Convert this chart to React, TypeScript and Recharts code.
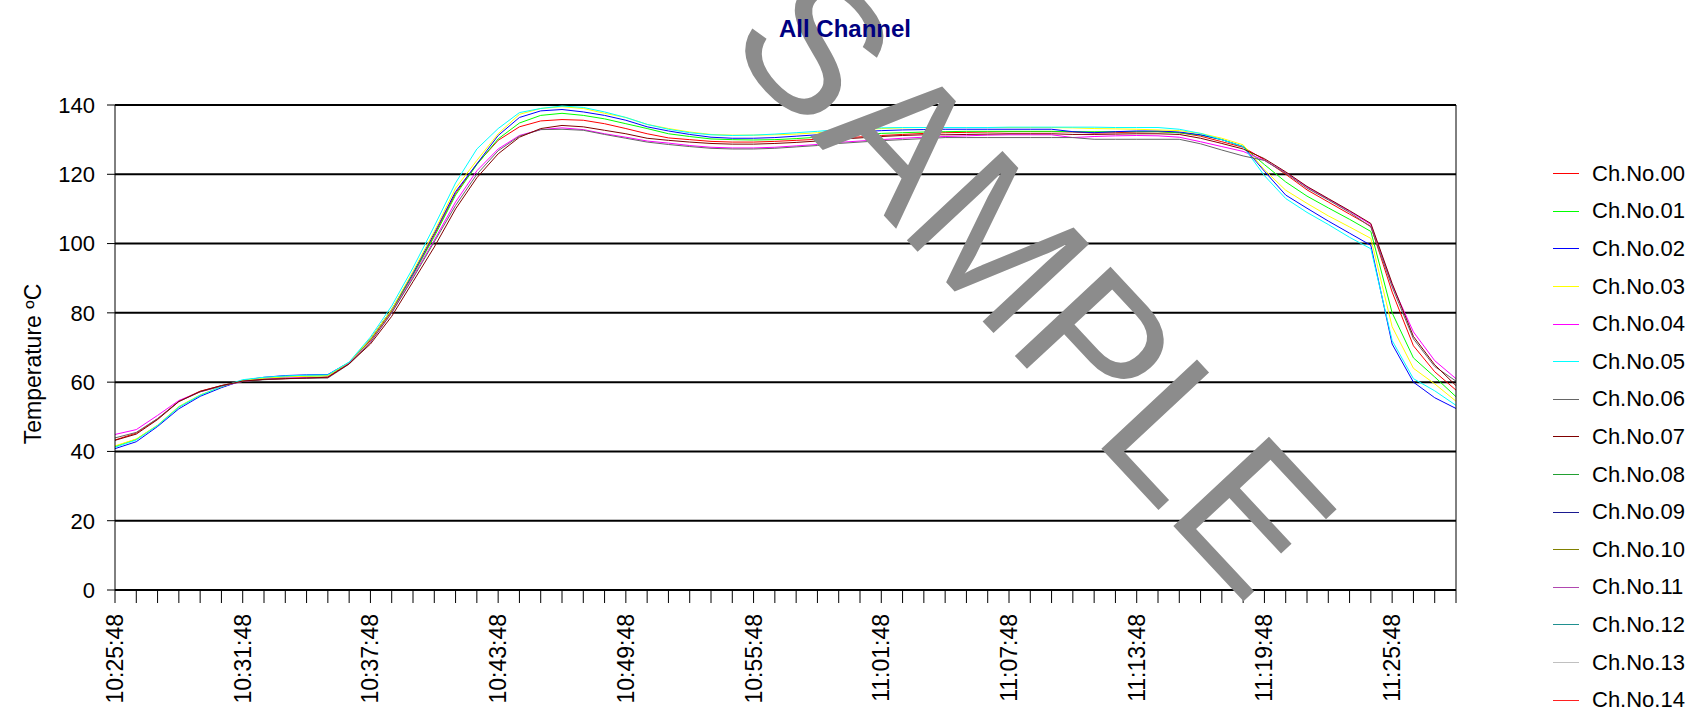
import { LineChart, Line, XAxis, YAxis, CartesianGrid } from 'recharts'

const FONT = "'Liberation Sans', Arial, sans-serif"

// one reading per minute
const times = [
  '10:25:48', '10:26:48', '10:27:48', '10:28:48', '10:29:48', '10:30:48', '10:31:48', '10:32:48',
  '10:33:48', '10:34:48', '10:35:48', '10:36:48', '10:37:48', '10:38:48', '10:39:48', '10:40:48',
  '10:41:48', '10:42:48', '10:43:48', '10:44:48', '10:45:48', '10:46:48', '10:47:48', '10:48:48',
  '10:49:48', '10:50:48', '10:51:48', '10:52:48', '10:53:48', '10:54:48', '10:55:48', '10:56:48',
  '10:57:48', '10:58:48', '10:59:48', '11:00:48', '11:01:48', '11:02:48', '11:03:48', '11:04:48',
  '11:05:48', '11:06:48', '11:07:48', '11:08:48', '11:09:48', '11:10:48', '11:11:48', '11:12:48',
  '11:13:48', '11:14:48', '11:15:48', '11:16:48', '11:17:48', '11:18:48', '11:19:48', '11:20:48',
  '11:21:48', '11:22:48', '11:23:48', '11:24:48', '11:25:48', '11:26:48', '11:27:48', '11:28:48',
]

const ch00 = [
  43.3, 45.3, 49.4, 54.5, 57.4, 59.0, 60.3, 60.8, 61.0, 61.2,
  61.5, 65.6, 72.0, 80.5, 91.0, 102.5, 114.5, 123.0, 129.8, 133.7,
  135.4, 135.8, 135.6, 134.6, 133.2, 131.7, 130.5, 130.0, 129.5, 129.3,
  129.3, 129.5, 129.8, 130.1, 130.4, 130.8, 131.2, 131.5, 131.8, 132.0,
  132.1, 132.2, 132.3, 132.3, 132.3, 132.2, 131.9, 132.0, 132.2, 132.3,
  132.0, 131.0, 129.4, 127.8, 124.2, 120.0, 115.5, 112.0, 108.5, 105.0,
  86.0, 70.5, 63.0, 57.7,
]
const ch01 = [
  41.4, 43.5, 47.5, 52.8, 56.2, 58.6, 60.5, 61.2, 61.5, 61.7,
  61.9, 65.6, 72.3, 80.8, 91.0, 102.0, 114.0, 122.8, 130.2, 134.8,
  137.0, 137.6, 137.0, 136.0, 134.6, 133.2, 131.7, 130.9, 130.2, 130.0,
  129.9, 130.0, 130.3, 130.7, 131.2, 131.5, 131.8, 132.0, 132.2, 132.3,
  132.4, 132.4, 132.4, 132.4, 132.4, 132.3, 132.3, 132.3, 132.3, 132.3,
  132.0, 131.3, 130.0, 128.0, 122.8, 117.8, 113.7, 110.3, 107.0, 103.5,
  80.0, 67.0, 61.5, 55.8,
]
const ch02 = [
  40.8, 42.8, 47.2, 52.3, 55.9, 58.4, 60.5, 61.4, 61.9, 62.1,
  62.2, 65.7, 72.5, 81.0, 91.5, 103.0, 115.0, 123.0, 131.2, 136.4,
  138.3, 138.7, 138.0, 137.0, 135.6, 133.7, 132.5, 131.5, 130.7, 130.4,
  130.4, 130.6, 131.0, 131.4, 131.9, 132.3, 132.6, 132.8, 132.9, 133.0,
  133.0, 133.0, 133.0, 133.0, 133.0, 132.3, 132.0, 132.3, 132.5, 132.5,
  132.2, 131.4, 130.0, 128.0, 120.9, 114.0, 110.2, 106.5, 103.0, 99.5,
  71.0, 60.0, 55.5, 52.4,
]
const ch03 = [
  41.6, 43.6, 47.6, 53.0, 56.3, 58.7, 60.5, 61.2, 61.5, 61.7,
  61.9, 65.7, 72.5, 81.0, 92.0, 103.5, 116.0, 124.0, 131.7, 137.3,
  139.0, 139.5, 139.0, 137.6, 136.4, 134.4, 133.2, 132.2, 131.5, 131.3,
  131.3, 131.4, 131.6, 132.0, 132.5, 132.9, 133.2, 133.4, 133.5, 133.5,
  133.5, 133.5, 133.5, 133.5, 133.5, 133.4, 133.2, 133.1, 133.0, 132.8,
  132.6, 131.8, 130.4, 128.5, 121.3, 115.4, 111.6, 108.0, 104.8, 101.5,
  76.0, 64.0, 59.5, 54.5,
]
const ch04 = [
  44.9, 46.3, 50.4, 54.7, 57.2, 58.8, 60.2, 60.8, 61.2, 61.3,
  61.3, 65.4, 71.5, 80.0, 90.5, 101.0, 112.0, 121.0, 127.3, 131.2,
  132.9, 133.4, 132.9, 131.7, 130.7, 129.6, 129.0, 128.3, 127.8, 127.6,
  127.6, 127.8, 128.2, 128.6, 129.2, 129.6, 130.0, 130.4, 130.7, 130.9,
  131.1, 131.3, 131.4, 131.4, 131.4, 130.6, 130.9, 131.1, 131.2, 131.1,
  130.7, 129.4, 128.0, 126.6, 124.0, 120.5, 116.3, 112.8, 109.3, 105.5,
  88.0, 74.5, 66.2, 61.0,
]
const ch05 = [
  41.2, 43.3, 47.5, 52.8, 56.2, 58.7, 60.7, 61.4, 61.8, 62.0,
  62.1, 65.8, 73.0, 82.0, 93.0, 105.0, 117.5, 127.3, 133.2, 137.8,
  139.0, 139.7, 139.3, 138.0, 136.4, 134.4, 133.0, 132.0, 131.4, 131.2,
  131.3, 131.6, 132.0, 132.4, 132.9, 133.2, 133.4, 133.5, 133.5, 133.5,
  133.5, 133.5, 133.6, 133.6, 133.6, 133.6, 133.6, 133.5, 133.5, 133.5,
  133.0, 131.8, 130.0, 128.0, 119.6, 113.0, 109.0, 105.5, 101.8, 98.5,
  72.0, 61.0, 57.5, 53.3,
]
const ch06 = [
  43.9, 45.5, 49.5, 54.4, 57.2, 58.9, 60.2, 60.7, 61.0, 61.1,
  61.2, 65.2, 71.5, 80.0, 90.0, 100.5, 111.0, 120.0, 126.8, 131.0,
  132.9, 133.0, 132.7, 131.5, 130.4, 129.3, 128.6, 128.0, 127.5, 127.3,
  127.3, 127.5, 127.9, 128.3, 128.9, 129.3, 129.7, 130.0, 130.3, 130.6,
  130.6, 130.6, 130.6, 130.6, 130.6, 130.6, 130.1, 130.1, 130.1, 130.1,
  130.1, 128.8, 127.0, 125.3, 124.0, 120.3, 116.0, 112.6, 109.0, 104.8,
  87.5, 72.5, 64.5, 60.3,
]
const ch07 = [
  43.2, 45.0, 49.2, 54.4, 57.3, 59.0, 60.3, 60.8, 61.0, 61.2,
  61.4, 65.3, 71.0, 79.0, 89.0, 99.0, 110.0, 119.0, 125.9, 130.7,
  133.2, 134.1, 133.7, 132.7, 131.7, 130.4, 129.8, 129.3, 128.9, 128.7,
  128.7, 128.9, 129.2, 129.6, 130.1, 130.5, 130.9, 131.2, 131.4, 131.4,
  131.5, 131.6, 131.7, 131.7, 131.7, 131.5, 131.5, 131.6, 131.7, 131.7,
  131.5, 130.4, 128.9, 127.3, 124.5, 120.7, 116.5, 113.0, 109.5, 105.8,
  88.5, 73.2, 65.0, 59.0,
]
// channels 08..14 have no readings, they only show up in the legend
const ch08: number[] = []
const ch09: number[] = []
const ch10: number[] = []
const ch11: number[] = []
const ch12: number[] = []
const ch13: number[] = []
const ch14: number[] = []

const yTicks = [0, 20, 40, 60, 80, 100, 120, 140]

const series = [
  { key: 'ch00', name: 'Ch.No.00', color: '#ff0000', values: ch00 },
  { key: 'ch01', name: 'Ch.No.01', color: '#00ff00', values: ch01 },
  { key: 'ch02', name: 'Ch.No.02', color: '#0000ff', values: ch02 },
  { key: 'ch03', name: 'Ch.No.03', color: '#ffff00', values: ch03 },
  { key: 'ch04', name: 'Ch.No.04', color: '#ff00ff', values: ch04 },
  { key: 'ch05', name: 'Ch.No.05', color: '#00ffff', values: ch05 },
  { key: 'ch06', name: 'Ch.No.06', color: '#666666', values: ch06 },
  { key: 'ch07', name: 'Ch.No.07', color: '#800000', values: ch07 },
  { key: 'ch08', name: 'Ch.No.08', color: '#22a032', values: ch08 },
  { key: 'ch09', name: 'Ch.No.09', color: '#1a1a90', values: ch09 },
  { key: 'ch10', name: 'Ch.No.10', color: '#808000', values: ch10 },
  { key: 'ch11', name: 'Ch.No.11', color: '#b048b0', values: ch11 },
  { key: 'ch12', name: 'Ch.No.12', color: '#209090', values: ch12 },
  { key: 'ch13', name: 'Ch.No.13', color: '#c0c0c0', values: ch13 },
  { key: 'ch14', name: 'Ch.No.14', color: '#ff2020', values: ch14 },
]

const data = times.map((time, i) => {
  const row: Record<string, string | number | undefined> = { time }
  series.forEach(s => { row[s.key] = s.values[i] })
  return row
})

// every minute gets a tick mark, only every 6th gets a label
const TimeTick = ({ x, y, index, payload }: any) => {
  if (index % 6 !== 0) return null
  return (
    <text
      x={x}
      y={y + 9}
      transform={`rotate(-90, ${x}, ${y + 9})`}
      textAnchor="end"
      dy="0.35em"
      fontSize={23}
      fontFamily={FONT}
      fill="#000"
    >
      {payload.value}
    </text>
  )
}

export default function App() {
  return (
    <div style={{ position: 'absolute', left: 0, top: 0, width: 1701, height: 728, background: '#fff', fontFamily: FONT }}>
      <LineChart
        width={1701}
        height={728}
        data={data}
        margin={{ top: 105, right: 185, bottom: 18, left: 55 }}
      >
        <CartesianGrid yAxisId="left" vertical={false} stroke="#000" strokeWidth={2} />
        <XAxis
          dataKey="time"
          interval={0}
          height={120}
          tickSize={13}
          tick={<TimeTick />}
          axisLine={{ stroke: '#000', strokeWidth: 2 }}
          tickLine={{ stroke: '#000', strokeWidth: 1 }}
        />
        <YAxis
          yAxisId="left"
          width={60}
          domain={[0, 140]}
          ticks={yTicks}
          tickSize={8}
          tickMargin={12}
          axisLine={{ stroke: '#000' }}
          tickLine={{ stroke: '#000' }}
          tick={{ fill: '#000', fontSize: 22, fontFamily: FONT }}
        />
        <YAxis
          yAxisId="right"
          orientation="right"
          width={60}
          domain={[0, 140]}
          ticks={yTicks}
          tickSize={8}
          tickMargin={11}
          axisLine={{ stroke: '#000' }}
          tickLine={{ stroke: '#000' }}
          tick={{ fill: '#000', fontSize: 22, fontFamily: FONT, textAnchor: 'start' }}
        />
        {series.map(s => (
          <Line
            key={s.key}
            yAxisId="left"
            type="linear"
            dataKey={s.key}
            name={s.name}
            stroke={s.color}
            strokeWidth={1}
            dot={false}
            isAnimationActive={false}
          />
        ))}
      </LineChart>

      {/* legend */}
      <div style={{ position: 'absolute', left: 1553, top: 155 }}>
        {series.map(s => (
          <div key={s.key} style={{ height: 37.6, display: 'flex', alignItems: 'center' }}>
            <span style={{ width: 26, borderTop: `1.5px solid ${s.color}`, marginRight: 13 }} />
            <span style={{ fontSize: 22, color: '#000', whiteSpace: 'nowrap' }}>{s.name}</span>
          </div>
        ))}
      </div>

      <svg width={1701} height={728} style={{ position: 'absolute', left: 0, top: 0, pointerEvents: 'none' }}>
        <text x={1035} y={280} textAnchor="middle" dy="0.35em" fontSize={190} fill="#8c8c8c" fontFamily={FONT} transform="rotate(47, 1035, 280)">
          SAMPLE
        </text>
        <text x={845} y={29} textAnchor="middle" dy="0.35em" fontSize={24} fontWeight="bold" fill="#000080" fontFamily={FONT}>
          All Channel
        </text>
        <text x={33} y={364} textAnchor="middle" dy="0.35em" fontSize={23} fill="#000" fontFamily={FONT} transform="rotate(-90, 33, 364)">
          Temperature ºC
        </text>
      </svg>
    </div>
  )
}
